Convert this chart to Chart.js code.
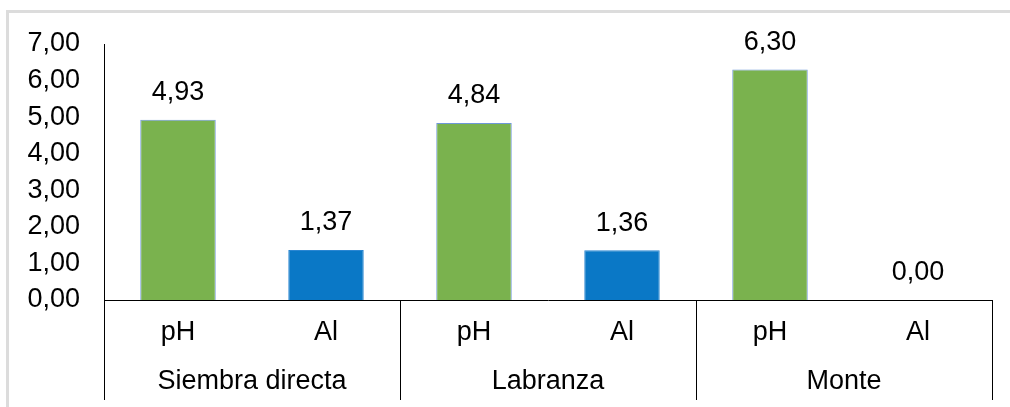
<!DOCTYPE html>
<html>
<head>
<meta charset="utf-8">
<script src="https://cdn.jsdelivr.net/npm/chart.js@4.4.1/dist/chart.umd.min.js"></script>
<style>
  html, body { margin: 0; padding: 0; background: #ffffff; overflow: hidden; }
  #frame { position: absolute; left: 6px; top: 10px; width: 1100px; height: 500px;
           border-top: 3px solid #dcdcdc; border-left: 3px solid #dcdcdc; }
  #wrap { position: absolute; left: 0; top: 0; width: 1010px; height: 407px; }
</style>
</head>
<body>
<div id="frame"></div>
<div id="wrap"><canvas id="c" width="1010" height="407"></canvas></div>
<script>
// ---- data ----
const groups = ['Siembra directa', 'Labranza', 'Monte'];
const subLabels = ['pH', 'Al', 'pH', 'Al', 'pH', 'Al'];
const values = [4.93, 1.37, 4.84, 1.36, 6.30, 0.00];
const yMin = 0;
const yMax = 7;
const yStep = 1;

// ---- styles ----
const FONT = '"Liberation Sans", Arial, sans-serif';
const FS = 27;
const GREEN = '#7AB24E';
const BLUE = '#0A78C6';
const barColors = subLabels.map(s => s === 'pH' ? GREEN : BLUE);
const barBorders = subLabels.map(s => s === 'pH' ? '#6E97D8' : '#2A86D2');
const fmt = v => Number(v).toFixed(2).replace('.', ',');

const valueLabels = {
  id: 'valueLabels',
  afterDatasetsDraw(chart) {
    const ctx = chart.ctx;
    const meta = chart.getDatasetMeta(0);
    ctx.save();
    ctx.font = FS + 'px ' + FONT;
    ctx.fillStyle = '#000000';
    ctx.textAlign = 'center';
    ctx.textBaseline = 'middle';
    meta.data.forEach((bar, i) => {
      ctx.fillText(fmt(chart.data.datasets[0].data[i]), bar.x, bar.y - 27);
    });
    ctx.restore();
  }
};

new Chart(document.getElementById('c'), {
  type: 'bar',
  data: {
    labels: subLabels,
    datasets: [{
      data: values,
      backgroundColor: barColors,
      borderColor: barBorders,
      borderWidth: 1,
      categoryPercentage: 1,
      barPercentage: 0.51,
      xAxisID: 'x',
      yAxisID: 'y'
    }]
  },
  options: {
    responsive: false,
    animation: false,
    devicePixelRatio: 1,
    layout: { padding: { top: 44, right: 18, bottom: 0, left: 0 } },
    plugins: { legend: { display: false }, tooltip: { enabled: false } },
    scales: {
      y: {
        min: yMin, max: yMax,
        ticks: { stepSize: yStep, callback: v => fmt(v), color: '#000', padding: 24,
                 font: { family: FONT, size: FS } },
        grid: { display: false, drawTicks: false },
        border: { display: true, color: '#000', width: 1 },
        afterFit: s => { s.width = 104; }
      },
      x: {
        type: 'category',
        position: 'bottom',
        ticks: { color: '#000', padding: -84, font: { family: FONT, size: FS }, maxRotation: 0 },
        grid: {
          display: true, offset: true, drawOnChartArea: false, drawTicks: true, tickLength: 100,
          color: c => (c.index === undefined || c.index % 2 === 0) ? '#000' : 'rgba(0,0,0,0)'
        },
        border: { display: true, color: '#000', width: 1 },
        afterFit: s => { s.height = 50; }
      },
      x2: {
        type: 'category',
        position: 'bottom',
        labels: groups,
        offset: true,
        ticks: { color: '#000', padding: 15, font: { family: FONT, size: FS }, maxRotation: 0 },
        grid: { display: false, drawTicks: false },
        border: { display: false },
        afterFit: s => { s.height = 57; }
      }
    }
  },
  plugins: [valueLabels]
});
</script>
</body>
</html>
